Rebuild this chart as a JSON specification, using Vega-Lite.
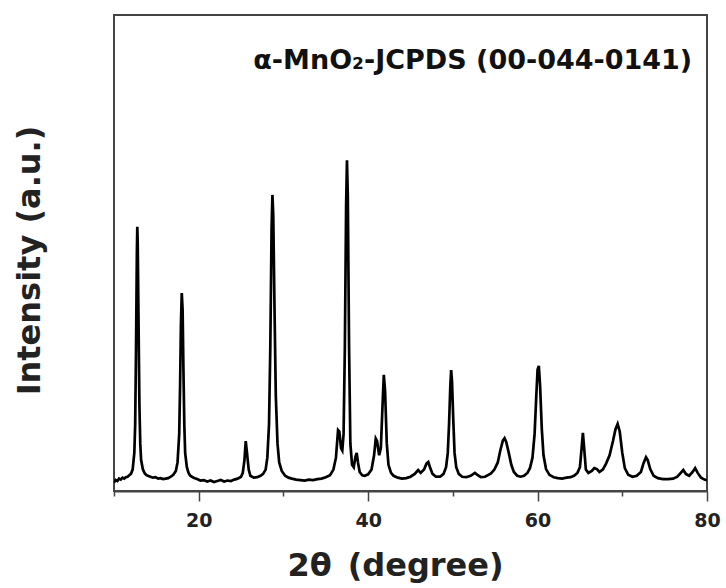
{
  "$schema": "https://vega.github.io/schema/vega-lite/v6.json",
  "width": 593,
  "height": 476,
  "autosize": "none",
  "padding": {"left": 114, "top": 15, "right": 19, "bottom": 97},
  "background": "white",
  "config": {"view": {"stroke": "#444", "strokeWidth": 2}, "font": "DejaVu Sans"},
  "title": {"text": "α-MnO₂-JCPDS (00-044-0141)", "anchor": "end", "orient": "top", "offset": -60, "dx": -28, "fontSize": 27, "fontWeight": "bold", "font": "DejaVu Sans", "color": "#111"},
  "data": {"values": [
    {"t":10.0,"i":1.8},{"t":10.2,"i":2.3},{"t":10.4,"i":2.1},{"t":10.6,"i":2.6},{"t":10.8,"i":2.4},{"t":11.0,"i":2.8},{"t":11.2,"i":2.6},{"t":11.4,"i":2.9},{"t":11.6,"i":3.0},{"t":11.8,"i":3.3},{"t":12.0,"i":3.6},{"t":12.2,"i":4.5},{"t":12.4,"i":8},{"t":12.5,"i":14},{"t":12.6,"i":30},{"t":12.7,"i":50},{"t":12.75,"i":55.5},{"t":12.8,"i":52},{"t":12.9,"i":35},{"t":13.0,"i":18},{"t":13.1,"i":10},{"t":13.2,"i":6.5},{"t":13.4,"i":4.6},{"t":13.6,"i":3.8},{"t":13.8,"i":3.4},{"t":14.0,"i":3.2},{"t":14.3,"i":3.0},{"t":14.6,"i":2.8},{"t":14.9,"i":2.9},{"t":15.2,"i":2.6},{"t":15.5,"i":2.7},{"t":15.8,"i":2.5},{"t":16.1,"i":2.6},{"t":16.4,"i":2.7},{"t":16.7,"i":3.0},{"t":17.0,"i":3.4},{"t":17.3,"i":4.2},{"t":17.5,"i":6},{"t":17.7,"i":12},{"t":17.8,"i":22},{"t":17.9,"i":35},{"t":18.0,"i":41.6},{"t":18.1,"i":38},{"t":18.2,"i":25},{"t":18.3,"i":14},{"t":18.4,"i":8},{"t":18.6,"i":5},{"t":18.8,"i":3.8},{"t":19.0,"i":3.2},{"t":19.4,"i":2.8},{"t":19.8,"i":2.5},{"t":20.2,"i":2.2},{"t":20.6,"i":2.3},{"t":21.0,"i":2.0},{"t":21.4,"i":2.2},{"t":21.8,"i":1.9},{"t":22.2,"i":2.1},{"t":22.6,"i":2.3},{"t":23.0,"i":2.0},{"t":23.4,"i":2.2},{"t":23.8,"i":2.1},{"t":24.2,"i":2.4},{"t":24.6,"i":2.6},{"t":25.0,"i":3.0},{"t":25.2,"i":3.8},{"t":25.4,"i":6.5},{"t":25.55,"i":10.5},{"t":25.7,"i":8},{"t":25.9,"i":4.5},{"t":26.1,"i":3.2},{"t":26.5,"i":2.8},{"t":26.9,"i":2.9},{"t":27.3,"i":3.2},{"t":27.6,"i":3.6},{"t":27.9,"i":4.5},{"t":28.1,"i":7},{"t":28.3,"i":14},{"t":28.45,"i":30},{"t":28.6,"i":55},{"t":28.7,"i":62.2},{"t":28.8,"i":58},{"t":28.95,"i":38},{"t":29.1,"i":20},{"t":29.3,"i":10},{"t":29.5,"i":6},{"t":29.8,"i":4.2},{"t":30.2,"i":3.2},{"t":30.6,"i":2.8},{"t":31.0,"i":2.6},{"t":31.5,"i":2.4},{"t":32.0,"i":2.3},{"t":32.5,"i":2.2},{"t":33.0,"i":2.4},{"t":33.5,"i":2.3},{"t":34.0,"i":2.5},{"t":34.5,"i":2.6},{"t":35.0,"i":2.9},{"t":35.5,"i":3.3},{"t":35.9,"i":4.5},{"t":36.2,"i":7},{"t":36.45,"i":12.8},{"t":36.6,"i":12.5},{"t":36.8,"i":9},{"t":36.95,"i":8.5},{"t":37.1,"i":12},{"t":37.25,"i":30},{"t":37.4,"i":60},{"t":37.5,"i":69.5},{"t":37.6,"i":62},{"t":37.75,"i":30},{"t":37.9,"i":10},{"t":38.1,"i":5.5},{"t":38.3,"i":5.0},{"t":38.5,"i":7.2},{"t":38.65,"i":8.0},{"t":38.8,"i":6},{"t":39.0,"i":4.0},{"t":39.3,"i":3.3},{"t":39.6,"i":3.2},{"t":40.0,"i":3.5},{"t":40.4,"i":4.5},{"t":40.7,"i":7.5},{"t":40.9,"i":11},{"t":41.05,"i":10.5},{"t":41.3,"i":7.5},{"t":41.5,"i":9},{"t":41.7,"i":18},{"t":41.85,"i":24.4},{"t":42.0,"i":21},{"t":42.2,"i":10},{"t":42.4,"i":5.5},{"t":42.7,"i":3.8},{"t":43.0,"i":3.2},{"t":43.5,"i":2.8},{"t":44.0,"i":2.6},{"t":44.5,"i":2.7},{"t":45.0,"i":3.0},{"t":45.5,"i":3.6},{"t":45.9,"i":4.4},{"t":46.2,"i":3.8},{"t":46.6,"i":4.5},{"t":46.9,"i":5.8},{"t":47.1,"i":6.1},{"t":47.3,"i":5},{"t":47.6,"i":3.6},{"t":48.0,"i":3.0},{"t":48.5,"i":3.0},{"t":48.9,"i":3.6},{"t":49.2,"i":5},{"t":49.4,"i":8},{"t":49.55,"i":14},{"t":49.7,"i":22},{"t":49.8,"i":25.4},{"t":49.9,"i":23},{"t":50.05,"i":15},{"t":50.2,"i":8},{"t":50.4,"i":5},{"t":50.7,"i":3.6},{"t":51.1,"i":3.0},{"t":51.6,"i":2.9},{"t":52.1,"i":3.2},{"t":52.6,"i":3.8},{"t":52.9,"i":3.4},{"t":53.3,"i":2.9},{"t":53.8,"i":3.0},{"t":54.2,"i":3.4},{"t":54.5,"i":3.7},{"t":54.9,"i":4.5},{"t":55.3,"i":6},{"t":55.6,"i":8.5},{"t":55.9,"i":10.6},{"t":56.1,"i":11.1},{"t":56.3,"i":10.3},{"t":56.6,"i":8},{"t":56.9,"i":5.5},{"t":57.2,"i":4.0},{"t":57.6,"i":3.2},{"t":58.0,"i":3.0},{"t":58.4,"i":3.2},{"t":58.8,"i":3.8},{"t":59.1,"i":4.8},{"t":59.4,"i":7},{"t":59.65,"i":12},{"t":59.85,"i":20},{"t":60.0,"i":25.5},{"t":60.15,"i":26.3},{"t":60.3,"i":22},{"t":60.5,"i":13},{"t":60.7,"i":7.5},{"t":61.0,"i":4.6},{"t":61.4,"i":3.4},{"t":61.9,"i":2.9},{"t":62.4,"i":2.7},{"t":62.9,"i":2.6},{"t":63.4,"i":2.8},{"t":63.9,"i":2.9},{"t":64.3,"i":3.2},{"t":64.7,"i":3.8},{"t":65.0,"i":5},{"t":65.2,"i":9},{"t":65.35,"i":12.2},{"t":65.5,"i":9},{"t":65.7,"i":4.5},{"t":66.0,"i":3.8},{"t":66.4,"i":4.2},{"t":66.7,"i":4.8},{"t":67.0,"i":4.6},{"t":67.3,"i":4.0},{"t":67.7,"i":4.5},{"t":68.1,"i":5.8},{"t":68.5,"i":7.5},{"t":68.9,"i":10.5},{"t":69.2,"i":13},{"t":69.45,"i":14.1},{"t":69.7,"i":12.5},{"t":70.0,"i":8},{"t":70.3,"i":4.8},{"t":70.7,"i":3.4},{"t":71.2,"i":3.0},{"t":71.7,"i":3.2},{"t":72.2,"i":4.0},{"t":72.5,"i":5.8},{"t":72.8,"i":7.1},{"t":73.0,"i":6.5},{"t":73.3,"i":4.6},{"t":73.7,"i":3.2},{"t":74.2,"i":2.7},{"t":74.8,"i":2.5},{"t":75.4,"i":2.5},{"t":76.0,"i":2.6},{"t":76.5,"i":3.0},{"t":76.9,"i":3.8},{"t":77.2,"i":4.4},{"t":77.5,"i":3.6},{"t":77.9,"i":3.2},{"t":78.3,"i":4.0},{"t":78.6,"i":4.8},{"t":78.9,"i":3.8},{"t":79.3,"i":2.8},{"t":79.7,"i":2.4},{"t":80.0,"i":2.3}
  ]},
  "mark": {"type": "line", "color": "black", "strokeWidth": 2.7, "clip": true},
  "encoding": {
    "x": {
      "field": "t", "type": "quantitative",
      "scale": {"domain": [10, 80], "nice": false, "zero": false},
      "axis": {
        "values": [10, 20, 30, 40, 50, 60, 70, 80],
        "labelExpr": "datum.value % 20 === 0 ? datum.label : ''",
        "tickSize": {"condition": {"test": "datum.value % 20 === 0", "value": 10}, "value": 5},
        "grid": false, "domainColor": "#444", "domainWidth": 2, "tickColor": "#444", "tickWidth": 1.5,
        "labelFont": "DejaVu Sans", "labelFontWeight": "bold", "labelFontSize": 19, "labelColor": "#222",
        "labelPadding": 10, "labelFlush": false,
        "title": "2θ\u2002(degree)", "titleFont": "DejaVu Sans", "titleFontSize": 32, "titleFontWeight": "bold", "titleColor": "#222", "titlePadding": 20, "titleX": 281, "titleAlign": "center"
      }
    },
    "y": {
      "field": "i", "type": "quantitative",
      "scale": {"domain": [0, 100], "nice": false},
      "axis": {
        "labels": false, "ticks": false, "grid": false, "domain": false,
        "title": "Intensity (a.u.)", "titleFont": "DejaVu Sans", "titleFontSize": 32, "titleFontWeight": "bold", "titleColor": "#222", "titlePadding": 68, "titleY": 245
      }
    }
  }
}
